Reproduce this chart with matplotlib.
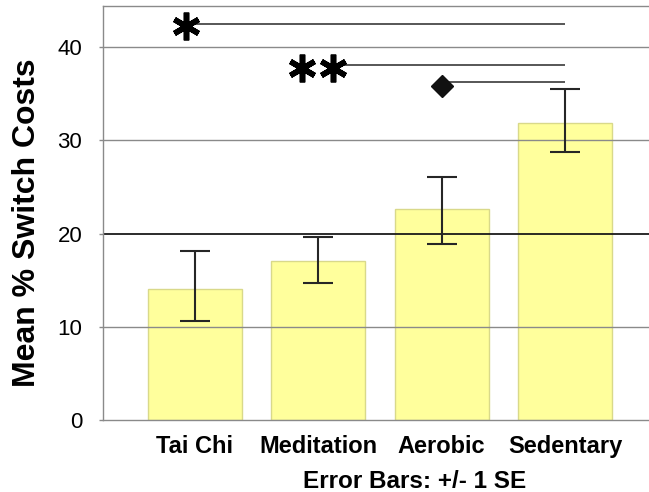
import matplotlib
matplotlib.use("Agg")
import matplotlib.pyplot as plt

# Data
categories = ["Tai Chi", "Meditation", "Aerobic", "Sedentary"]
means = [14.0, 17.0, 22.6, 31.9]
err_upper = [18.15, 19.6, 26.1, 35.55]
err_lower = [10.65, 14.65, 18.9, 28.75]
y_ticks = [0, 10, 20, 30, 40]

# Significance markers (label, start x, level y)
sig_labels = ["*", "**", "diamond"]
sig_start = [-0.07, 1.12, 2.0]
sig_level = [42.5, 38.1, 36.3]
sig_end = 3.0

plt.rcParams['font.family'] = ['Liberation Sans', 'DejaVu Sans']

W, H = 649, 492
fig = plt.figure(figsize=(W / 100, H / 100), dpi=100)
ax = fig.add_axes([103 / W, 1 - 420 / H, 1 - 103 / W, (420 - 6) / H])

x = list(range(len(categories)))
ax.bar(x, means, width=0.76, color='#FFFF9C', edgecolor='#D9D98A', linewidth=1.0, zorder=1)

# gridlines on top of bars
for t in y_ticks[1:]:
    if t == 20:
        ax.axhline(t, color='#1a1a1a', lw=1.3, zorder=2)
    else:
        ax.axhline(t, color='#8a8a8a', lw=1.0, zorder=2)

lower = [m - l for m, l in zip(means, err_lower)]
upper = [u - m for m, u in zip(means, err_upper)]
ax.errorbar(x, means, yerr=[lower, upper], fmt='none', ecolor='#262626',
            elinewidth=1.5, capsize=11, capthick=1.5, zorder=3)

# significance lines
for lab, xs, yl in zip(sig_labels, sig_start, sig_level):
    ax.plot([xs, sig_end], [yl, yl], color='#3a3a3a', lw=1.2, zorder=3, solid_capstyle='butt')
    if lab == "*":
        ax.plot([xs], [yl - 0.2], marker=(6, 2, 0), color='black', markersize=20,
                markeredgewidth=4.0, zorder=4)
    elif lab == "**":
        ax.plot([xs - 0.25, xs], [yl - 0.35, yl - 0.35], linestyle='none', marker=(6, 2, 0),
                color='black', markersize=20, markeredgewidth=4.0, zorder=4)
    else:
        ax.plot([xs], [yl - 0.45], marker='D', color='#111111', markersize=11, zorder=4)

ax.set_xlim(-0.745, 3.68)
ax.set_ylim(0, 44.4)
ax.set_yticks(y_ticks)
ax.set_yticklabels([str(t) for t in y_ticks], fontsize=16)
ax.set_xticks(x)
ax.set_xticklabels(categories, fontsize=17, fontweight='bold')
ax.tick_params(axis='x', length=0, pad=11)
ax.tick_params(axis='y', length=3, width=1, color='#8a8a8a', pad=12)

for s in ['left', 'top', 'bottom']:
    ax.spines[s].set_color('#8a8a8a')
    ax.spines[s].set_linewidth(1.0)
ax.spines['right'].set_visible(False)

fig.text(27 / W, 1 - 223 / H, "Mean % Switch Costs", rotation=90, fontsize=23,
         fontweight='bold', ha='center', va='center')
fig.text(415 / W, 1 - 488 / H, "Error Bars: +/- 1 SE", fontsize=17.5, fontweight='bold',
         ha='center', va='baseline')

fig.savefig("out.png", dpi=100)
